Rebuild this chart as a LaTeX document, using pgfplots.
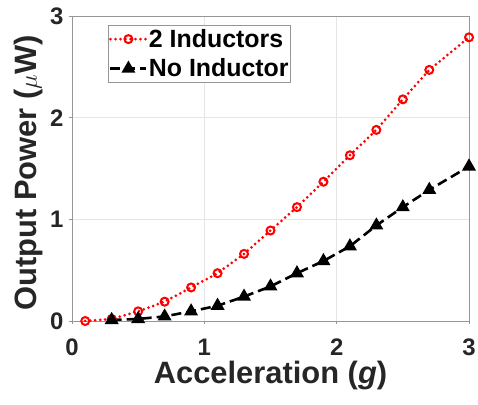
\documentclass[border=0pt]{standalone}
\usepackage{pgfplots}
\pgfplotsset{compat=1.18}
\usepackage{fontspec}
\setmainfont{Liberation Sans}
\definecolor{axgray}{RGB}{150,150,150}
\definecolor{txt}{RGB}{38,38,38}
\begin{document}
\begin{tikzpicture}
\path[use as bounding box] (-72bp,-84bp) rectangle (406bp,321bp);
\begin{axis}[
  scale only axis, width=397bp, height=305bp,
  xmin=0, xmax=3, ymin=0, ymax=3,
  xtick={0,1,2,3}, ytick={0,1,2,3},
  axis line style={axgray, line width=0.8pt},
  tick style={axgray, line width=0.8pt},
  tick align=outside, major tick length=3bp,
  xtick pos=bottom, ytick pos=left,
  grid=major, grid style={black!10, line width=0.6pt},
  /pgf/number format/assume math mode=true,
  tick label style={font=\fontsize{24}{26}\selectfont\bfseries, text=txt},
  xticklabel style={inner sep=0pt, yshift=-15bp},
  yticklabel style={xshift=-2bp},
  label style={font=\fontsize{31}{33}\selectfont\bfseries, text=txt},
  xlabel={Acceleration (\textit{g})},
  ylabel={Output Power ($\mu$W)},
  xlabel style={at={([yshift=-62bp]axis description cs:0.5,0)}, anchor=base, inner sep=0pt},
  ylabel style={at={([xshift=-35bp]axis description cs:0,0.485)}, anchor=base, inner sep=0pt},
  legend style={at={(0.09,0.97)}, anchor=north west, draw=axgray,
    font=\fontsize{25}{27}\selectfont\bfseries, text=black,
    inner xsep=1bp, inner ysep=2bp, row sep=6bp,
    nodes={inner xsep=1bp, inner ysep=2bp}},
  legend cell align=left,
  legend image code/.code={
    \draw[mark repeat=2, mark phase=2, #1] plot coordinates {(0bp,0bp) (18bp,0bp) (36bp,0bp)};
  },
]
\addplot[red, line width=3bp, line cap=round, dash pattern=on 0bp off 5bp, mark=o, mark size=4bp,
  mark options={solid, line width=2bp}] coordinates {
  (0.1,0.00) (0.3,0.02) (0.5,0.095) (0.7,0.19) (0.9,0.33) (1.1,0.47)
  (1.3,0.66) (1.5,0.89) (1.7,1.12) (1.9,1.37) (2.1,1.63) (2.3,1.88)
  (2.5,2.18) (2.7,2.47) (3.0,2.79)};
\addlegendentry{2 Inductors}
\addplot[black, line width=2.6bp, dash pattern=on 10bp off 5bp, mark=triangle*, mark size=5.5bp,
  mark options={solid}] coordinates {
  (0.3,0.01) (0.5,0.02) (0.7,0.045) (0.9,0.095) (1.1,0.15) (1.3,0.24)
  (1.5,0.34) (1.7,0.47) (1.9,0.59) (2.1,0.735) (2.3,0.94) (2.5,1.12)
  (2.7,1.29) (3.0,1.52)};
\addlegendentry{No Inductor}
\end{axis}
\end{tikzpicture}
\end{document}
